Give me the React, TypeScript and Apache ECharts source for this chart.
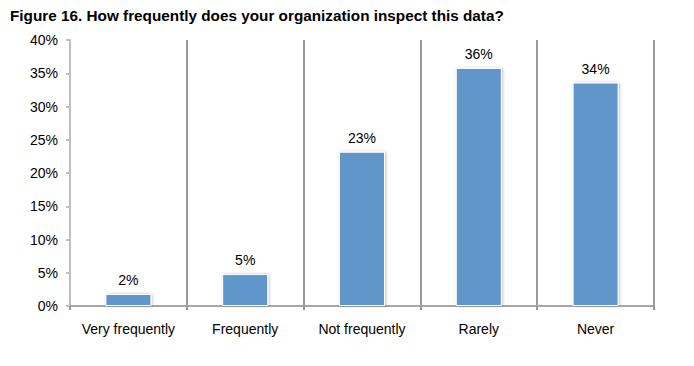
import React, { useEffect, useRef } from "react";
import * as echarts from "echarts";

const categories = ["Very frequently", "Frequently", "Not frequently", "Rarely", "Never"];
const values = [1.8, 4.8, 23.2, 35.8, 33.6];
const titleText = "Figure 16. How frequently does your organization inspect this data?";

export default function App() {
  const ref = useRef<HTMLDivElement>(null);
  useEffect(() => {
    if (!ref.current) return;
    const chart = echarts.init(ref.current, undefined, { renderer: "svg" });
    chart.setOption({
      animation: false,
      backgroundColor: "#fff",
      textStyle: { fontFamily: "Liberation Sans, Arial, sans-serif" },
      title: {
        text: titleText,
        left: 5,
        top: 3,
        textStyle: { fontSize: 15.3, fontWeight: "bold", color: "#000", fontFamily: "Liberation Sans, Arial, sans-serif" },
      },
      grid: { left: 70, right: 40, top: 40, bottom: 60 },
      xAxis: {
        type: "category",
        data: categories,
        axisLine: { lineStyle: { color: "#a6a6a6", width: 2 } },
        axisTick: { show: true, length: 4, interval: 0, lineStyle: { color: "#999", width: 2 } },
        axisLabel: { color: "#000", fontSize: 14, margin: 16, interval: 0 },
        splitLine: {
          show: true,
          interval: (i: number) => i !== 0,
          lineStyle: { color: "#999", width: 2 },
        },
      },
      yAxis: {
        type: "value",
        min: 0,
        max: 40,
        interval: 5,
        axisLine: { show: true, lineStyle: { color: "#bfbfbf", width: 2 } },
        axisTick: { show: true, length: 4, lineStyle: { color: "#bfbfbf", width: 2 } },
        axisLabel: { color: "#000", fontSize: 14, margin: 12, formatter: "{value}%" },
        splitLine: { show: false },
      },
      series: [
        {
          type: "bar",
          data: values,
          barWidth: 46,
          itemStyle: {
            color: "#6096c9",
            borderColor: "#ffffff",
            borderWidth: 1,
            shadowColor: "rgba(0,0,0,0.25)",
            shadowBlur: 3,
            shadowOffsetX: 1,
          },
          label: {
            show: true,
            position: "top",
            distance: 7,
            color: "#000",
            fontSize: 14,
            formatter: (p: any) => Math.round(p.value) + "%",
          },
        },
      ],
    });
    return () => chart.dispose();
  }, []);
  return <div ref={ref} style={{ width: 694, height: 366, position: "absolute", left: 0, top: 0 }} />;
}
